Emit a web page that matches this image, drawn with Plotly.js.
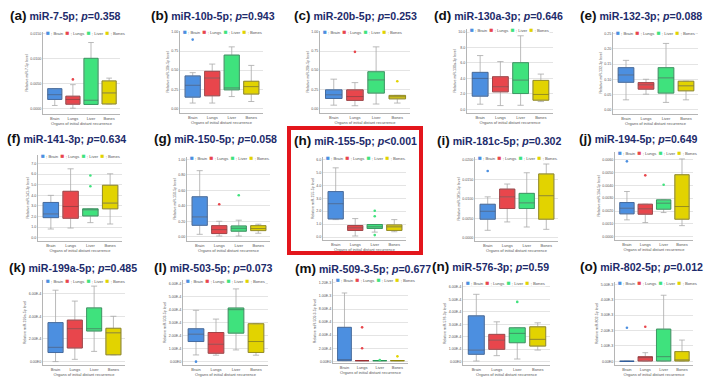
<!DOCTYPE html>
<html><head><meta charset="utf-8">
<script src="https://cdn.plot.ly/plotly-3.0.1.min.js"></script>
<style>html,body{margin:0;padding:0;background:#fff}#chart{width:714px;height:385px}</style>
</head><body><div id="chart"></div>
<script>
// ---------------- DATA ----------------
const groups = ['Brain', 'Lungs', 'Liver', 'Bones'];
const panelLetters = ['a','b','c','d','e','f','g','h','i','j','k','l','m','n','o'];
const mirNames = ['miR-7-5p','miR-10b-5p','miR-20b-5p','miR-130a-3p','miR-132-3p',
                  'miR-141-3p','miR-150-5p','miR-155-5p','miR-181c-5p','miR-194-5p',
                  'miR-199a-5p','miR-503-5p','miR-509-3-5p','miR-576-3p','miR-802-5p'];
const pValues = ['=0.358','=0.943','=0.253','=0.646','=0.088','=0.634','=0.058','<0.001',
                 '=0.302','=0.649','=0.485','=0.073','=0.677','=0.59','=0.012'];

const lowerFence = [
  [0.12,0.01,0.16,0.18],[0.28,0.28,0.62,0.36],[0.17,0.14,0.23,0.28],[0.33,0.24,0.26,0.50],[0.65,1.02,0.48,0.65],
  [0.83,0.92,1.43,1.30],[0.17,0.06,0.06,0.24],[1.35,0.08,0.38,0.41],[0.38,0.81,0.55,0.43],[1.31,1.10,1.88,0.86],
  [0.00,0.10,0.45,0.30],[0.49,0.47,0.88,0.47],[0.05,0.05,0.05,0.05],[0.05,0.48,0.21,0.93],[0.00,0.02,0.02,0.02]];
const q1 = [
  [0.36,0.17,0.16,0.18],[0.59,0.66,0.97,0.75],[0.52,0.42,0.80,0.50],[0.85,1.13,1.02,0.59],[1.80,1.35,1.09,1.24],
  [1.90,1.84,2.06,2.73],[0.75,0.22,0.37,0.41],[1.40,0.51,0.66,0.51],[0.95,1.50,1.50,0.95],[1.78,1.75,2.14,1.36],
  [0.40,0.60,1.35,0.30],[1.53,0.62,2.18,0.68],[0.05,0.05,0.05,0.05],[0.59,0.99,1.52,1.25],[0.00,0.02,0.02,0.02]];
const median = [
  [0.55,0.36,0.33,0.62],[1.21,1.59,1.07,1.14],[0.71,0.62,1.49,0.61],[2.00,1.46,1.89,0.96],[2.28,1.63,2.09,1.57],
  [2.25,2.95,2.73,3.27],[1.29,0.47,0.56,0.54],[2.58,0.71,0.79,0.79],[1.36,2.10,1.79,2.16],[2.22,2.17,2.61,2.35],
  [0.63,1.45,1.45,1.27],[2.10,1.32,4.00,1.53],[0.05,0.05,0.05,0.05],[0.93,1.73,2.27,1.79],[0.00,0.24,0.30,0.09]];
const q3 = [
  [0.79,0.49,2.00,1.10],[1.70,1.94,2.79,1.42],[0.97,0.97,1.92,0.68],[2.39,2.11,3.02,1.87],[2.76,1.78,2.76,1.87],
  [3.33,4.38,2.73,4.95],[2.59,0.73,0.71,0.73],[3.52,0.89,0.97,0.94],[1.72,2.50,2.28,3.28],[2.66,2.53,2.87,4.83],
  [1.72,1.83,2.37,1.47],[2.52,2.23,4.13,2.91],[2.60,0.05,0.05,0.05],[3.68,2.19,2.72,2.80],[0.00,0.30,2.09,0.63]];
const upperFence = [
  [0.79,0.95,2.63,1.21],[1.87,2.32,3.22,2.25],[1.53,1.35,3.22,0.68],[3.48,3.09,4.76,2.28],[3.24,2.00,4.35,1.87],
  [4.00,6.50,2.73,6.03],[4.27,1.01,1.08,0.82],[5.36,1.43,0.97,1.35],[2.10,2.76,3.34,3.79],[3.52,2.53,2.87,6.06],
  [3.15,2.67,3.33,2.00],[3.95,3.27,5.61,2.91],[5.23,0.05,0.05,0.05],[5.41,3.20,2.72,3.12],[0.00,0.56,4.29,1.38]];
// outliers per panel: [groupIndex, value]
const outliers = [
  [[1,1.16]],[[0,3.6]],[[0,3.95],[1,2.96],[3,1.42]],[],[],
  [[2,5.87],[2,4.86]],[[1,2.11],[2,2.69]],[[2,2.04],[2,1.61],[2,0.15]],[[0,3.43]],[[0,5.87],[1,4.78],[2,4.05]],
  [],[[0,-0.03]],[[1,2.60],[1,1.00],[2,0.10],[3,0.38]],[[2,4.8]],[[0,2.18],[1,2.24]]];
const yTickLabels = [
  ['0.0000','0.0050','0.0100','0.0150'],
  ['0.00','0.25','0.50','0.75','1.00'],
  ['0.00','0.25','0.50','0.75','1.00'],
  ['0.0','2.0','4.0','6.0','8.0','10.0'],
  ['0.00','0.05','0.10','0.15','0.20','0.25'],
  ['0.0','1.0','2.0','3.0','4.0','5.0','6.0','7.0'],
  ['0.00','0.20','0.40','0.60','0.80','1.00'],
  ['0.0','1.0','2.0','3.0','4.0','5.0','6.0'],
  ['0.0000','0.0050','0.0100','0.0150','0.0200'],
  ['0.0000','0.0010','0.0020','0.0030','0.0040','0.0050','0.0060'],
  ['0.00E0','2.00E-4','4.00E-4','6.00E-4'],
  ['0.00E0','1.00E-4','2.00E-4','3.00E-4','4.00E-4','5.00E-4','6.00E-4'],
  ['0.00E0','2.00E-4','4.00E-4','6.00E-4','8.00E-4','1.00E-3','1.20E-3'],
  ['0.00E0','1.00E-4','2.00E-4','3.00E-4','4.00E-4','5.00E-4','6.00E-4'],
  ['0.00E0','1.00E-3','2.00E-3','3.00E-3','4.00E-3','5.00E-3']];

// ---------------- STYLE / LAYOUT ----------------
const fills = ['#4c8fe0','#e8464c','#3fe27d','#e2d300'];
const darks = ['#2b5a9c','#9e2a2f','#1f9450','#8f8500'];
const yRanges = [[-0.22,3.05],[-0.24,4.05],[-0.24,4.05],[-0.24,5.2],[-0.28,5.1],
                 [-0.3,7.8],[-0.26,5.15],[-0.23,6.2],[-0.17,4.15],[-0.26,6.6],
                 [-0.15,3.6],[-0.29,6.3],[-0.13,6.3],[-0.27,6.4],[-0.24,5.15]];
// plot areas in pixels [x0,x1,yTop,yBottom]
const boxesPx = [[43,120,32,114],[180,263,31,113],[320,410,31,113],[467,553,29,113],[613,698,32,114],
                 [38,122,155,241],[187,270,157,241],[323,406,157,240],[475,558,157,241],[615,693,152,240],
                 [43,125,280,365],[183,268,280,365],[333,408,279,363],[463,550,282,365],[615,693,282,365]];
const titlePx = [[8,15],[149,15],[292,15],[432,15],[578,15],
                 [5,138],[152,138],[292,140],[435,140],[577,138],
                 [7,267],[152,267],[293,268],[430,266],[578,266]];
const W = 714, H = 385;
const px = v => v / W, py = v => 1 - v / H;

const traces = [];
const layout = {
  width: W, height: H, margin: {l:0,r:0,t:0,b:0},
  paper_bgcolor: '#fff', plot_bgcolor: '#fff', showlegend: false,
  font: {family: 'Arial, "Liberation Sans", sans-serif', color: '#444'},
  annotations: [], shapes: [], boxmode: 'overlay'
};

for (let p = 0; p < 15; p++) {
  const s = p === 0 ? '' : String(p + 1);
  const xa = 'x' + s, ya = 'y' + s;
  for (let g = 0; g < 4; g++) {
    const common = {type: 'box', xaxis: xa, yaxis: ya, x: [g],
      q1: [q1[p][g]], median: [median[p][g]], q3: [q3[p][g]],
      width: 0.78, boxpoints: false, hoverinfo: 'skip'};
    traces.push(Object.assign({}, common, {
      lowerfence: [lowerFence[p][g]], upperfence: [upperFence[p][g]],
      fillcolor: fills[g], line: {color: '#a9a9a9', width: 0.8}, whiskerwidth: 0.4}));
    traces.push(Object.assign({}, common, {
      lowerfence: [q1[p][g]], upperfence: [q3[p][g]],
      fillcolor: 'rgba(0,0,0,0)', line: {color: darks[g], width: 0.8}, whiskerwidth: 0}));
  }
  if (outliers[p].length) {
    traces.push({type: 'scatter', mode: 'markers', xaxis: xa, yaxis: ya,
      x: outliers[p].map(o => o[0]), y: outliers[p].map(o => o[1]),
      marker: {size: 2.6, color: outliers[p].map(o => fills[o[0]])}, hoverinfo: 'skip'});
  }
  const b = boxesPx[p];
  layout['xaxis' + s] = {domain: [px(b[0]), px(b[1])], anchor: ya, range: [-0.65, 3.6],
    tickvals: [0,1,2,3], ticktext: groups, tickfont: {size: 4, color: '#555'},
    showline: true, linecolor: '#b5b5b5', linewidth: 1, showgrid: false, zeroline: false,
    ticks: '', fixedrange: true,
    title: {text: 'Organs of initial distant recurrence', font: {size: 4, color: '#555'}, standoff: 2}};
  layout['yaxis' + s] = {domain: [py(b[3]), py(b[2])], anchor: xa, range: yRanges[p],
    tickvals: yTickLabels[p].map((_, i) => i), ticktext: yTickLabels[p],
    tickfont: {size: 3.6, color: '#555'}, showline: true, linecolor: '#b5b5b5', linewidth: 1,
    showgrid: true, gridcolor: '#e4e4e4', gridwidth: 1, zeroline: false, ticks: '', fixedrange: true,
    title: {text: 'Relative ' + mirNames[p] + ' level', font: {size: 3.6, color: '#555'}, standoff: 2}};
  // in-plot legend
  const lg = groups.map((gname, g) =>
    '<span style="color:' + fills[g] + ';font-size:6.5px">■</span> ; ' + gname).join('  ');
  layout.annotations.push({xref: 'paper', yref: 'paper', x: px(b[0] + 2), y: py(b[2]),
    xanchor: 'left', yanchor: 'middle', showarrow: false, text: lg,
    font: {size: 4.2, color: '#555'}, bgcolor: '#fff', borderpad: 0});
  // panel title
  layout.annotations.push({xref: 'paper', yref: 'paper', x: px(titlePx[p][0]), y: py(titlePx[p][1]),
    xanchor: 'left', yanchor: 'middle', showarrow: false,
    text: '<span style="font-size:13.5px;color:#111"><b>(' + panelLetters[p] + ')</b></span> <b>' +
          mirNames[p] + '; <i>p</i>' + pValues[p] + '</b>',
    font: {size: 10.6, color: '#1d2b6b', family: 'Arial, "Liberation Sans", sans-serif'}});
}
// red highlight frame around panel (h)
layout.shapes.push({type: 'rect', xref: 'paper', yref: 'paper',
  x0: px(289), x1: px(421), y0: py(253), y1: py(128), line: {color: '#e3161c', width: 4}});

Plotly.newPlot('chart', traces, layout, {staticPlot: true, displayModeBar: false});
</script></body></html>
